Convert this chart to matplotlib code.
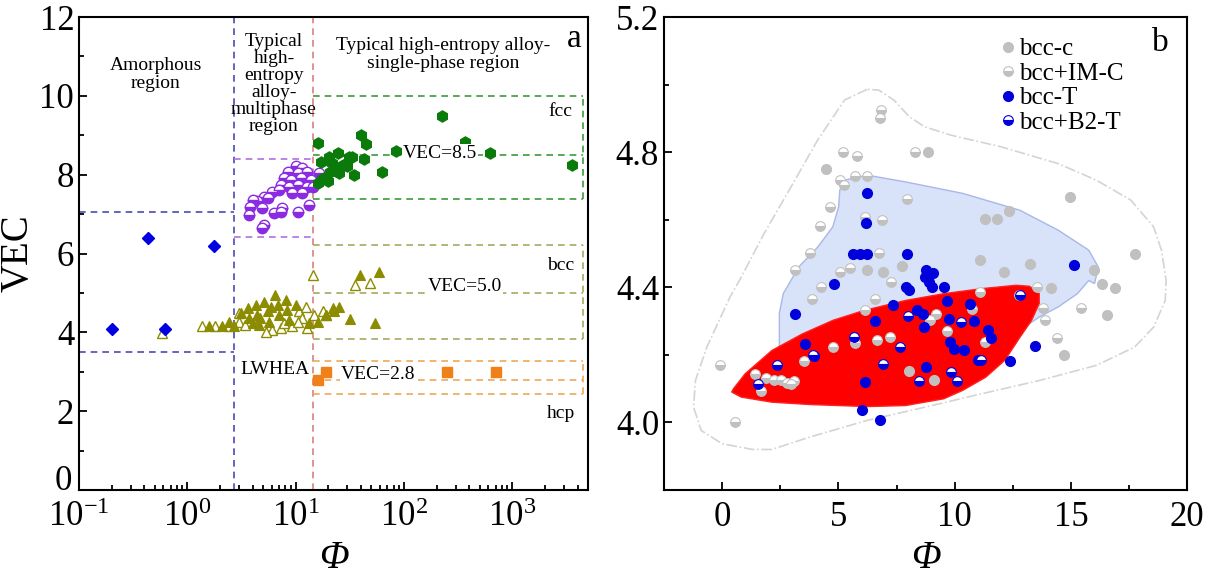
import numpy as np
import matplotlib
matplotlib.use("Agg")
from matplotlib import pyplot as plt
from matplotlib.ticker import MultipleLocator, FixedLocator, NullFormatter, LogLocator, FuncFormatter

plt.rcParams['font.family'] = ['Liberation Serif', 'DejaVu Serif']
plt.rcParams['mathtext.fontset'] = 'custom'
plt.rcParams['mathtext.rm'] = 'Liberation Serif'
plt.rcParams['mathtext.it'] = 'Liberation Serif:italic'

# ---------------- panel a data ----------------
amor_x = [0.2, 0.43, 0.62, 1.76]
amor_y = [4.08, 6.39, 4.08, 6.19]

multi_x = [10.0, 11.5, 8.5, 10.4, 12.8, 16.4, 7.8, 9.0, 11.1, 13.8, 7.3, 8.7, 10.4, 12.8,
           6.1, 7.0, 9.3, 11.5, 5.1, 4.4, 4.0, 3.8, 4.9, 6.3, 7.5, 7.3, 10.4, 13.3, 3.7,
           5.1, 4.9, 5.5, 14.3]
multi_y = [8.22, 8.16, 8.08, 8.04, 8.08, 8.04, 7.91, 7.87, 7.91, 7.87, 7.74, 7.70, 7.74, 7.70,
           7.57, 7.61, 7.53, 7.53, 7.44, 7.32, 7.36, 7.19, 7.15, 7.02, 7.15, 7.06, 7.06, 7.23, 6.98,
           6.73, 6.64, 7.40, 7.70]

fcc_x = [16.1, 226, 369, 617, 3550, 40.3, 44.9, 84, 62, 34.5, 43, 33, 24.8, 20.2, 17, 21.8,
         27.4, 23.3, 19, 25.3, 29.7, 16.2, 19.8, 20.9, 31, 17.5]
fcc_y = [8.80, 9.49, 8.82, 8.56, 8.25, 9.01, 8.78, 8.59, 8.08, 8.0, 8.39, 8.46, 8.56, 8.46, 8.33, 8.29,
         8.25, 8.12, 7.95, 8.04, 8.21, 7.78, 7.83, 8.08, 8.46, 7.90]

bcc_fx = [1.57, 2.1, 2.7, 2.4, 3.1, 3.6, 3.7, 4.3, 4.4, 4.6, 5.1, 5.5, 5.7, 6.5, 6.8, 7.0, 8.1,
          8.4, 8.7, 10.0, 13.3, 15.9, 19.0, 21.9, 4.0, 4.7, 5.9, 39, 59, 25, 22.6, 31.8, 53.8]
bcc_fy = [4.17, 4.17, 4.17, 4.27, 4.48, 4.61, 4.36, 4.70, 4.44, 4.19, 4.78, 4.53, 4.27, 4.95, 4.70,
          4.44, 4.82, 4.57, 4.31, 4.70, 4.23, 4.27, 4.44, 4.61, 4.23, 4.36, 4.65, 5.46, 5.54, 4.65,
          4.53, 4.34, 4.23]
bcc_hx = [0.58, 1.36, 1.81, 2.4, 3.0, 6.1, 7.3, 9.3, 10.7, 11.5, 12.4, 14.8, 17.7, 5.3, 3.4, 7.8,
          10.4, 12.8, 3.0, 14.3, 35, 49, 19]
bcc_hy = [3.98, 4.17, 4.17, 4.17, 4.27, 4.06, 4.10, 4.15, 4.53, 4.36, 4.65, 4.44, 4.53, 4.02, 4.19,
          4.23, 4.27, 4.10, 4.48, 5.46, 5.19, 5.24, 4.44]

hcp_x = [16.1, 19.0, 247, 711]
hcp_y = [2.79, 3.0, 3.0, 3.0]

phi_amor, phi_multi = 2.7, 14.3
x_box_end = 4500

# ---------------- panel b data ----------------
bccc_x = [8.87, 4.47, 14.95, 11.29, 11.83, 12.35, 17.78, 11.11, 13.24, 12.11, 15.98, 16.36,
          16.89, 14.16, 6.93, 6.21, 7.75, 16.56, 14.70, 8.05, 9.12]
bccc_y = [4.80, 4.75, 4.666, 4.601, 4.601, 4.626, 4.50, 4.48, 4.47, 4.445, 4.45, 4.411,
          4.399, 4.399, 4.445, 4.452, 4.463, 4.319, 4.199, 4.152, 4.127]

bccim_x = [6.82, 6.79, 5.21, 5.80, 8.30, 5.06, 5.26, 5.70, 6.24, 4.65, 4.22, 7.97, 6.87, 3.78,
           3.12, 5.09, 5.52, 6.74, 7.26, 4.27, 6.16, -0.08, 0.57, 13.55, 12.78, 3.86, 6.57,
           6.16, 9.20, 8.95, 13.88, 15.44, 14.41, 7.23, 6.65, 5.72, 4.76, 3.50, 1.40, 1.89,
           2.22, 2.55, 2.79, 3.09, 2.96, 1.68, 10.76, 11.09, 9.69, 11.30, 13.80]
bccim_y = [4.924, 4.90, 4.80, 4.788, 4.80, 4.717, 4.702, 4.73, 4.73, 4.638, 4.581, 4.661, 4.60,
           4.502, 4.452, 4.445, 4.457, 4.502, 4.416, 4.401, 4.608, 4.169, 4.0, 4.40, 4.376,
           4.364, 4.366, 4.334, 4.322, 4.302, 4.302, 4.34, 4.25, 4.253, 4.245, 4.235, 4.223,
           4.182, 4.142, 4.132, 4.127, 4.127, 4.116, 4.124, 4.113, 4.092, 4.337, 4.387, 4.27,
           4.238, 4.34]

bcct_x = [6.24, 6.19, 5.62, 5.91, 6.21, 7.97, 15.15, 8.79, 9.07, 8.71, 8.90, 9.04, 9.56, 7.89,
          8.05, 4.80, 3.12, 3.56, 3.94, 7.36, 6.57, 8.38, 8.62, 8.67, 9.69, 9.77, 10.68, 10.84,
          11.42, 11.58, 9.82, 9.99, 10.40, 11.0, 8.79, 6.16, 6.0, 6.79, 12.40, 13.44]
bcct_y = [4.68, 4.59, 4.50, 4.50, 4.50, 4.50, 4.465, 4.45, 4.442, 4.43, 4.416, 4.40, 4.40, 4.40,
          4.393, 4.411, 4.32, 4.233, 4.196, 4.347, 4.30, 4.334, 4.322, 4.282, 4.36, 4.307, 4.35,
          4.30, 4.273, 4.251, 4.238, 4.218, 4.215, 4.184, 4.164, 4.119, 4.036, 4.006, 4.182, 4.225]

bccb2_x = [12.81, 8.0, 10.27, 5.67, 7.64, 3.91, 2.38, 6.90, 11.14, 9.86, 8.46, 10.10, 1.56]
bccb2_y = [4.376, 4.314, 4.297, 4.253, 4.223, 4.199, 4.169, 4.174, 4.184, 4.149, 4.122, 4.122, 4.113]

# outer dash-dot envelope
env_x = [6.24, 5.26, 4.11, 2.96, 1.81, 0.82, 0.33, -0.66, -1.15, -1.23, -0.9, 0.0, 1.31, 2.14,
         3.78, 6.24, 8.71, 11.17, 13.64, 16.1, 17.74, 18.56, 19.06, 19.1, 18.9, 18.56, 17.58,
         16.1, 14.46, 11.99, 9.86, 8.71, 8.05, 7.39, 6.73, 6.24]
env_y = [4.986, 4.954, 4.836, 4.697, 4.56, 4.43, 4.37, 4.223, 4.124, 4.045, 3.976, 3.937, 3.92,
         3.92, 3.957, 4.006, 4.045, 4.085, 4.124, 4.169, 4.223, 4.282, 4.361, 4.42, 4.51, 4.579,
         4.658, 4.717, 4.766, 4.816, 4.85, 4.875, 4.905, 4.954, 4.984, 4.986]

# light-blue region (bcc-T)
tz_x = [5.26, 6.24, 7.88, 10.35, 12.81, 14.46, 15.77, 16.18, 16.02, 15.77, 15.28, 14.46, 13.64,
        12.81, 12.2, 10.5, 7.0, 2.46, 2.46, 2.63, 2.79, 3.29, 4.11, 4.76, 5.01, 5.06]
tz_y = [4.717, 4.732, 4.712, 4.678, 4.628, 4.569, 4.51, 4.46, 4.411, 4.42, 4.381, 4.342, 4.312,
        4.273, 4.21, 4.15, 4.18, 4.223, 4.323, 4.382, 4.40, 4.46, 4.519, 4.579, 4.638, 4.687]

# red region (bcc+B2-T)
b2z_x = [0.49, 0.99, 2.14, 3.45, 4.76, 6.08, 7.89, 9.53, 11.17, 12.65, 13.22, 13.64, 13.64,
         13.31, 12.81, 12.16, 11.34, 10.35, 9.53, 7.89, 6.24, 3.78, 2.14, 0.82, 0.41]
b2z_y = [4.10, 4.144, 4.213, 4.262, 4.302, 4.331, 4.361, 4.381, 4.396, 4.406, 4.403, 4.381, 4.352,
         4.302, 4.252, 4.184, 4.134, 4.095, 4.07, 4.05, 4.047, 4.053, 4.06, 4.075, 4.09]

fig = plt.figure(figsize=(12.18, 5.79), dpi=100)
ax1 = fig.add_axes([0.0649, 0.1537, 0.4179, 0.8169])
ax2 = fig.add_axes([0.5452, 0.1537, 0.4294, 0.8169])

tick_fs = 25
for ax in (ax1, ax2):
    for s in ax.spines.values():
        s.set_linewidth(1.5)
    ax.tick_params(which='both', direction='in', top=False, right=False, labelsize=tick_fs, width=1.3)
    ax.tick_params(which='major', length=6)
    ax.tick_params(which='minor', length=3.5)
    ax.tick_params(axis='x', which='major', pad=8)

# ---------- panel a ----------
ax1.set_xscale('log')
ax1.set_xlim(0.1, 5000)
ax1.set_ylim(0, 12)
ax1.yaxis.set_major_locator(MultipleLocator(2))
ax1.yaxis.set_minor_locator(MultipleLocator(1))
# the "0" label is drawn separately, a little higher, so it clears the 10^-1 label
ax1.yaxis.set_major_formatter(FuncFormatter(lambda v, p: '' if v == 0 else '%d' % v))
ax1.text(-0.014, 0.22, '0', transform=ax1.get_yaxis_transform(), ha='right', va='center',
         fontsize=tick_fs)
ax1.xaxis.set_major_locator(FixedLocator([0.1, 1, 10, 100, 1000]))
ax1.set_xticklabels(['$10^{-1}$', '$10^{0}$', '$10^{1}$', '$10^{2}$', '$10^{3}$'])
ax1.xaxis.set_minor_locator(LogLocator(base=10, subs=np.arange(2, 10)))
ax1.xaxis.set_minor_formatter(NullFormatter())

dkw = dict(ls=(0, (4, 3)), lw=1.2)
blue_c, purp_c, red_c = '#4a4ab8', '#b070e0', '#d88080'
green_c, olive_c, orange_c = '#3c9a3c', '#a8a860', '#f0a858'
ax1.axvline(phi_amor, color=blue_c, **dkw)
ax1.axvline(phi_multi, color=red_c, **dkw)
ax1.plot([0.1, phi_amor], [7.05, 7.05], color=blue_c, **dkw)
ax1.plot([0.1, phi_amor], [3.5, 3.5], color=blue_c, **dkw)
ax1.plot([0.1, 0.1], [3.5, 7.05], color=blue_c, **dkw)
ax1.plot([phi_amor, phi_multi], [8.4, 8.4], color=purp_c, **dkw)
ax1.plot([phi_amor, phi_multi], [6.43, 6.43], color=purp_c, **dkw)
for lo, mid, hi, c in [(7.38, 8.5, 10.0, green_c), (3.82, 5.0, 6.22, olive_c), (2.44, 2.79, 3.27, orange_c)]:
    for yy in (lo, mid, hi):
        ax1.plot([phi_multi, x_box_end], [yy, yy], color=c, **dkw)
    ax1.plot([x_box_end, x_box_end], [lo, hi], color=c, **dkw)

ms = 7.5
ax1.plot(bcc_hx, bcc_hy, '^', ls='none', ms=ms, mfc='white', mec='#8c8c00', mew=1.0)
ax1.plot(bcc_fx, bcc_fy, '^', ls='none', ms=ms, mfc='#8c8c00', mec='#8c8c00', mew=0.8)
ax1.plot(amor_x, amor_y, 'D', ls='none', ms=6.5, color='#0000e0')
ax1.plot(multi_x, multi_y, 'o', ls='none', ms=ms, fillstyle='bottom', mfc='#8a2be2',
         mfcalt='white', mec='#8a2be2', mew=1.0)
ax1.plot(fcc_x, fcc_y, 'h', ls='none', ms=8, color='#0a7a0a')
ax1.plot(hcp_x, hcp_y, 's', ls='none', ms=6.5, color='#f08018')

tfs = 14
ax1.text(0.51, 10.55, 'Amorphous\nregion', ha='center', va='center', fontsize=tfs, linespacing=1.1)
ax1.text(6.3, 10.3, 'Typical\nhigh-\nentropy\nalloy-\nmultiphase\nregion', ha='center', va='center',
         fontsize=tfs, linespacing=1.0)
ax1.text(230, 11.05, 'Typical high-entropy alloy-\nsingle-phase region', ha='center', va='center',
         fontsize=tfs, linespacing=1.1)
ax1.text(3700, 11.45, 'a', ha='center', va='center', fontsize=24)
ax1.text(2800, 9.6, 'fcc', ha='center', va='center', fontsize=tfs)
ax1.text(2800, 5.7, 'bcc', ha='center', va='center', fontsize=tfs)
ax1.text(2800, 1.93, 'hcp', ha='center', va='center', fontsize=tfs)
wb = dict(facecolor='white', edgecolor='none', pad=0.5)
ax1.text(214, 8.55, 'VEC=8.5', ha='center', va='center', fontsize=tfs, bbox=wb)
ax1.text(363, 5.16, 'VEC=5.0', ha='center', va='center', fontsize=tfs, bbox=wb)
ax1.text(58, 2.92, 'VEC=2.8', ha='center', va='center', fontsize=tfs, bbox=wb)
ax1.text(6.4, 3.07, 'LWHEA', ha='center', va='center', fontsize=tfs)

ax1.set_ylabel('VEC', fontsize=28, labelpad=2)
ax1.set_xlabel('Φ', fontsize=28, style='italic', labelpad=4)

# ---------- panel b ----------
ax2.set_xlim(-2.5, 20)
ax2.set_ylim(3.8, 5.2)
ax2.xaxis.set_major_locator(MultipleLocator(5))
ax2.xaxis.set_minor_locator(MultipleLocator(2.5))
ax2.yaxis.set_major_locator(FixedLocator([4.0, 4.4, 4.8, 5.2]))
ax2.yaxis.set_minor_locator(FixedLocator([4.2, 4.6, 5.0]))
ax2.set_yticklabels(['4.0', '4.4', '4.8', '5.2'])

ax2.fill(tz_x, tz_y, facecolor='#d8e2f8', edgecolor='#a8b8e8', lw=1.0, zorder=1)
ax2.fill(b2z_x, b2z_y, facecolor='#ff0000', edgecolor='#ff2020', lw=1.0, zorder=2)
ax2.plot(env_x, env_y, color='#d4d4d4', ls='-.', lw=1.2, zorder=2)

ms2 = 7
grey = '#c0c0c0'
blue = '#0000dd'
ax2.plot(bccc_x, bccc_y, 'o', ls='none', ms=ms2, color=grey, zorder=3, label='bcc-c')
ax2.plot(bccim_x, bccim_y, 'o', ls='none', ms=ms2, fillstyle='bottom', mfc=grey, mfcalt='white',
         mec=grey, mew=0.8, zorder=3, label='bcc+IM-C')
ax2.plot(bcct_x, bcct_y, 'o', ls='none', ms=ms2, color=blue, zorder=4, label='bcc-T')
ax2.plot(bccb2_x, bccb2_y, 'o', ls='none', ms=ms2, fillstyle='bottom', mfc=blue, mfcalt='white',
         mec=blue, mew=0.8, zorder=4, label='bcc+B2-T')
ax2.legend(loc='upper left', bbox_to_anchor=(0.608, 0.998), frameon=False, fontsize=18,
           handlelength=0.5, handletextpad=0.2, labelspacing=0.08, markerscale=1.0, borderpad=0.3)
ax2.text(0.948, 0.945, 'b', transform=ax2.transAxes, ha='center', va='center', fontsize=24)
ax2.set_xlabel('Φ', fontsize=28, style='italic', labelpad=4)

fig.savefig('out.png', dpi=100)
